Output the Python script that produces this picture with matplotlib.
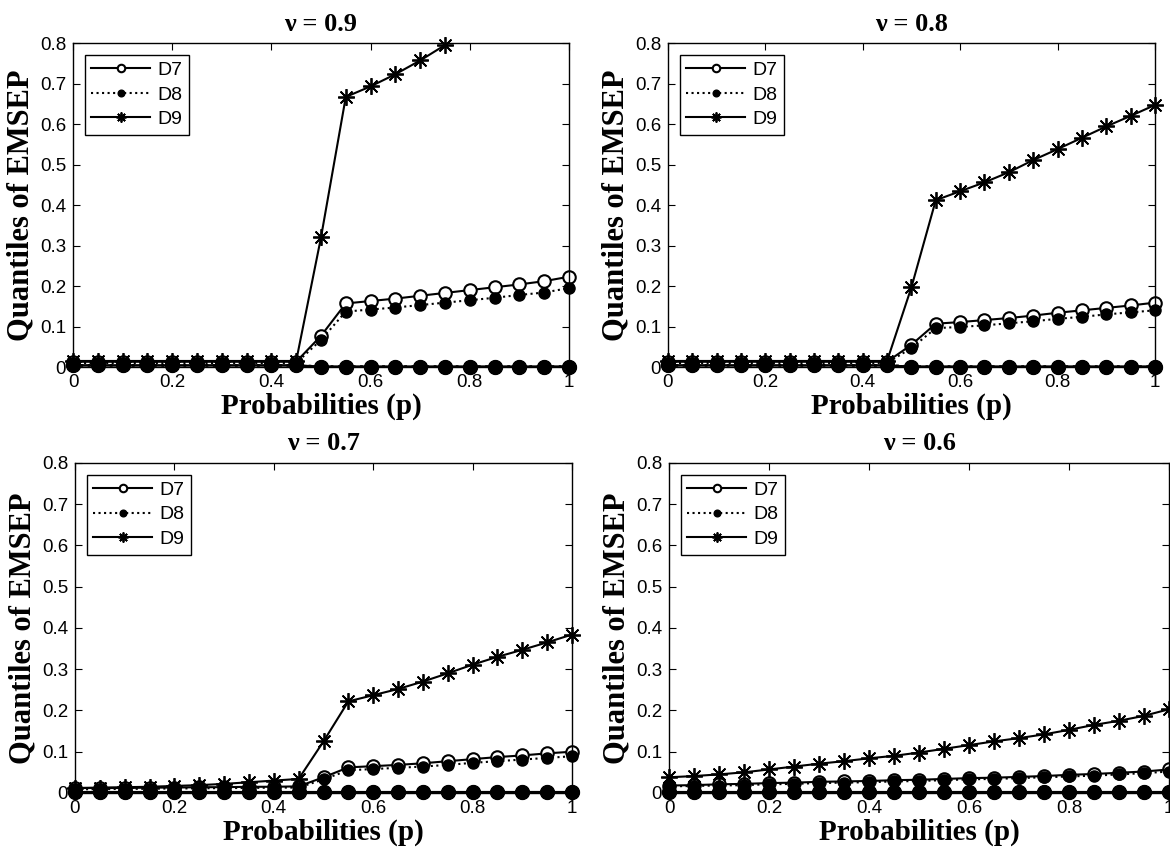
import matplotlib
matplotlib.use("Agg")
import matplotlib.pyplot as plt
import numpy as np

# probabilities p
p = [0, 0.05, 0.1, 0.15, 0.2, 0.25, 0.3, 0.35, 0.4, 0.45, 0.5,
     0.55, 0.6, 0.65, 0.7, 0.75, 0.8, 0.85, 0.9, 0.95, 1.0]

# nu = 0.9 (upper quantiles)
d7_09 = [0.013, 0.013, 0.013, 0.013, 0.013, 0.013, 0.013, 0.013, 0.013, 0.013, 0.077,
         0.157, 0.163, 0.169, 0.176, 0.183, 0.190, 0.197, 0.204, 0.212, 0.223]
d8_09 = [0.010, 0.010, 0.010, 0.010, 0.010, 0.010, 0.010, 0.010, 0.010, 0.010, 0.067,
         0.137, 0.142, 0.147, 0.153, 0.159, 0.165, 0.171, 0.178, 0.184, 0.195]
d9_09 = [0.015, 0.015, 0.015, 0.015, 0.015, 0.015, 0.015, 0.015, 0.015, 0.015, 0.320,
         0.667, 0.693, 0.723, 0.757, 0.795, np.nan, np.nan, np.nan, np.nan, np.nan]

# nu = 0.8
d7_08 = [0.013, 0.013, 0.013, 0.013, 0.013, 0.013, 0.013, 0.013, 0.013, 0.013, 0.055,
         0.107, 0.111, 0.116, 0.121, 0.127, 0.134, 0.140, 0.146, 0.152, 0.159]
d8_08 = [0.010, 0.010, 0.010, 0.010, 0.010, 0.010, 0.010, 0.010, 0.010, 0.010, 0.047,
         0.096, 0.099, 0.103, 0.108, 0.113, 0.119, 0.124, 0.130, 0.135, 0.140]
d9_08 = [0.015, 0.015, 0.015, 0.015, 0.015, 0.015, 0.015, 0.015, 0.015, 0.015, 0.197,
         0.412, 0.434, 0.456, 0.481, 0.511, 0.538, 0.566, 0.594, 0.620, 0.647]

# nu = 0.7
d7_07 = [0.012, 0.012, 0.012, 0.013, 0.013, 0.014, 0.014, 0.015, 0.015, 0.016, 0.038,
         0.062, 0.065, 0.068, 0.072, 0.077, 0.082, 0.087, 0.091, 0.096, 0.100]
d8_07 = [0.009, 0.009, 0.010, 0.010, 0.011, 0.011, 0.012, 0.012, 0.013, 0.013, 0.033,
         0.055, 0.058, 0.061, 0.064, 0.068, 0.073, 0.077, 0.081, 0.085, 0.089]
d9_07 = [0.012, 0.013, 0.014, 0.015, 0.017, 0.019, 0.022, 0.026, 0.030, 0.034, 0.125,
         0.222, 0.237, 0.252, 0.270, 0.290, 0.311, 0.330, 0.347, 0.365, 0.384]

# nu = 0.6
d7_06 = [0.018, 0.019, 0.021, 0.022, 0.024, 0.025, 0.027, 0.028, 0.029, 0.031, 0.032,
         0.034, 0.036, 0.037, 0.039, 0.041, 0.044, 0.046, 0.049, 0.052, 0.057]
d8_06 = [0.016, 0.017, 0.018, 0.019, 0.021, 0.022, 0.024, 0.025, 0.026, 0.028, 0.029,
         0.031, 0.033, 0.034, 0.036, 0.038, 0.040, 0.042, 0.045, 0.048, 0.052]
d9_06 = [0.038, 0.041, 0.045, 0.050, 0.057, 0.064, 0.071, 0.077, 0.084, 0.090, 0.098,
         0.107, 0.116, 0.125, 0.133, 0.142, 0.153, 0.165, 0.175, 0.187, 0.203]

# lower quantiles (close to zero)
low_jump = [0.004, 0.004, 0.004, 0.004, 0.004, 0.004, 0.004, 0.004, 0.004, 0.004, 0.001,
            0.001, 0.001, 0.001, 0.001, 0.001, 0.001, 0.001, 0.001, 0.001, 0.001]
low_flat = [0.002, 0.002, 0.002, 0.002, 0.002, 0.002, 0.002, 0.002, 0.002, 0.002, 0.002,
            0.002, 0.002, 0.002, 0.002, 0.002, 0.002, 0.002, 0.002, 0.002, 0.002]

titles = ["\u03bd = 0.9", "\u03bd = 0.8", "\u03bd = 0.7", "\u03bd = 0.6"]

serif = "Liberation Serif"
sans = "Liberation Sans"
ASTER = (8, 2, 0)  # matlab-like asterisk

fig = plt.figure(figsize=(11.7, 8.51), dpi=100)
boxes = [[0.0624, 0.5687, 0.4239, 0.3807],
         [0.5709, 0.5687, 0.4162, 0.3807],
         [0.0641, 0.0682, 0.4248, 0.3878],
         [0.5718, 0.0682, 0.4274, 0.3878]]

panels = [(d7_09, d8_09, d9_09, low_jump),
          (d7_08, d8_08, d9_08, low_jump),
          (d7_07, d8_07, d9_07, low_flat),
          (d7_06, d8_06, d9_06, low_flat)]


def draw_panel(ax, d7, d8, d9, low, title):
    # lower quantiles first, same styles
    ax.plot(p, low, "k-", marker="o", mfc="white", mec="k", ms=9, lw=1.5, mew=1.5, clip_on=False)
    ax.plot(p, low, "k-", marker=ASTER, mec="k", ms=8, lw=1.5, mew=1.2, clip_on=False)
    ax.plot(p, low, "k:", marker="o", mfc="k", mec="k", ms=10, lw=2.0, clip_on=False)

    l7, = ax.plot(p, d7, "k-", marker="o", mfc="white", mec="k", ms=9, lw=1.5, mew=1.5,
                  label="D7", clip_on=False)
    l8, = ax.plot(p, d8, "k:", marker="o", mfc="k", mec="k", ms=8, lw=1.5, label="D8",
                  clip_on=False)
    l9, = ax.plot(p, d9, "k-", marker=ASTER, mfc="k", mec="k", ms=12, lw=1.5, mew=1.3,
                  label="D9", clip_on=False)

    ax.set_xlim(0, 1)
    ax.set_ylim(0, 0.8)
    ax.set_xticks([0, 0.2, 0.4, 0.6, 0.8, 1])
    ax.set_xticklabels(["0", "0.2", "0.4", "0.6", "0.8", "1"])
    ax.set_yticks([0, 0.1, 0.2, 0.3, 0.4, 0.5, 0.6, 0.7, 0.8])
    ax.set_yticklabels(["0", "0.1", "0.2", "0.3", "0.4", "0.5", "0.6", "0.7", "0.8"])
    ax.tick_params(direction="in", length=5, top=True, right=True, labelsize=13.5, pad=5)
    for lab in ax.get_xticklabels() + ax.get_yticklabels():
        lab.set_family(sans)
    for sp in ax.spines.values():
        sp.set_linewidth(1.0)

    ax.set_title(title, fontsize=19, fontweight="bold", family=serif, pad=9)
    ax.set_xlabel("Probabilities (p)", fontsize=21, fontweight="bold", family=serif, labelpad=1)
    ax.set_ylabel("Quantiles of EMSEP", fontsize=22, fontweight="bold", family=serif, labelpad=3)

    leg = ax.legend(handles=[l7, l8, l9], loc="upper left", prop={"family": sans, "size": 14},
                    fancybox=False, edgecolor="k", framealpha=1, numpoints=1,
                    handlelength=3.0, markerscale=0.6, borderaxespad=0.6,
                    labelspacing=0.35, handletextpad=0.4, borderpad=0.35)
    leg.get_frame().set_linewidth(1.0)
    leg.set_zorder(5)


for box, (d7, d8, d9, low), title in zip(boxes, panels, titles):
    ax = fig.add_axes(box)
    draw_panel(ax, d7, d8, d9, low, title)

fig.savefig("out.png", dpi=100)
